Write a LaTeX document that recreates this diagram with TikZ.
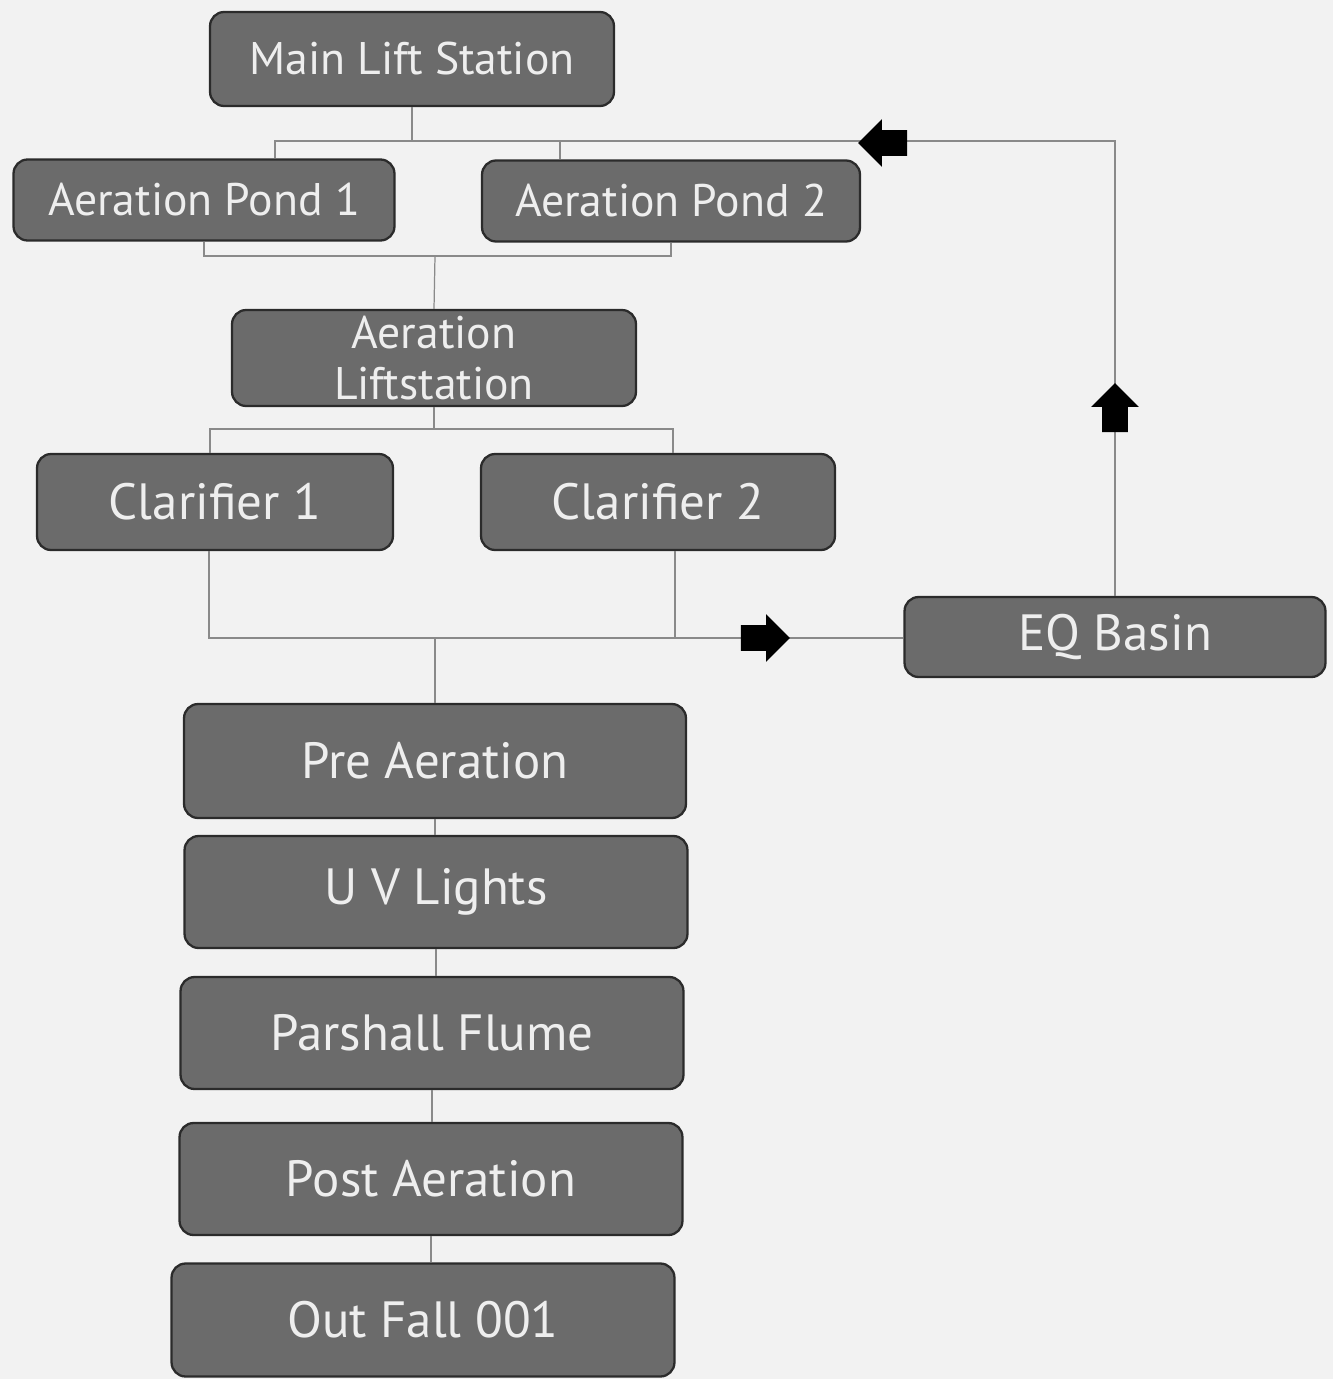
\documentclass[tikz,border=0pt]{standalone}
\usepackage{fontspec}
\setmainfont{PT Sans}
\usetikzlibrary{shapes.arrows}

\definecolor{paper}{HTML}{F2F2F2}
\definecolor{boxfill}{HTML}{6B6B6B}
\definecolor{boxline}{HTML}{2B2B2B}
\definecolor{boxtext}{HTML}{EEEEEE}
\definecolor{pipecol}{HTML}{8A8A8A}

\begin{document}
\begin{tikzpicture}[
    x=0.02cm, y=-0.02cm,
    unit/.style={
        draw=boxline,
        line width=1.3pt,
        fill=boxfill,
        rounded corners=8pt,
        text=boxtext,
        align=center,
        inner sep=0pt,
        font=\fontsize{26}{28.5}\selectfont
    },
    big/.style={unit, font=\fontsize{29}{32}\selectfont},
    pipe/.style={draw=pipecol, line width=0.7pt},
    flow/.style={
        single arrow,
        fill=black,
        draw=none,
        inner xsep=0pt,
        inner ysep=0.25cm,
        minimum height=0.98cm,
        minimum width=0.94cm,
        single arrow head extend=0.22cm
    },
    upflow/.style={flow, inner xsep=0.25cm, inner ysep=0pt, shape border rotate=90}
]

\useasboundingbox (0,0) rectangle (1333,1379);
\fill[paper] (0,0) rectangle (1333,1379);

% treatment units
\node[unit, minimum width=8.08cm, minimum height=1.88cm] (main) at (412,59) {Main Lift Station};
\node[unit, minimum width=7.62cm, minimum height=1.62cm] (pond1) at (204,200) {Aeration Pond 1};
\node[unit, minimum width=7.56cm, minimum height=1.62cm] (pond2) at (671,201) {Aeration Pond 2};
\node[unit, minimum width=8.08cm, minimum height=1.92cm] (lift) at (434,358) {Aeration\\Liftstation};
\node[big, minimum width=7.12cm, minimum height=1.92cm] (clar1) at (215,502) {Clarifier 1};
\node[big, minimum width=7.08cm, minimum height=1.92cm] (clar2) at (658,502) {Clarifier 2};
\node[big, minimum width=8.42cm, minimum height=1.60cm] (eq) at (1115,637) {EQ Basin};
\node[big, minimum width=10.04cm, minimum height=2.28cm] (pre) at (435,761) {Pre Aeration};
\node[big, minimum width=10.06cm, minimum height=2.24cm] (uv) at (436,892) {U V Lights};
\node[big, minimum width=10.06cm, minimum height=2.24cm] (flume) at (432,1033) {Parshall Flume};
\node[big, minimum width=10.06cm, minimum height=2.24cm] (post) at (431,1179) {Post Aeration};
\node[big, minimum width=10.06cm, minimum height=2.26cm] (outfall) at (423,1320) {Out Fall 001};

% junction points
\coordinate (tb1) at (275,141);
\coordinate (tb2) at (560,141);
\coordinate (pb) at (435,256);
\coordinate (cl1) at (210,429);
\coordinate (cl2) at (673,429);
\coordinate (cb1) at (209,638);
\coordinate (cb2) at (675,638);

% piping
\draw[pipe] (main.south) -- (main.south |- tb1);
\draw[pipe] (pond1.north -| tb1) -- (tb1) -- (tb1 -| eq.north) -- (eq.north);
\draw[pipe] (tb2) -- (tb2 |- pond2.north);
\draw[pipe] (pond1.south) |- (pb) -| (pond2.south);
\draw[pipe] (pb) -- (lift.north);
\draw[pipe] (lift.south) -- (lift.south |- cl1);
\draw[pipe] (cl1 |- clar1.north) -- (cl1) -- (cl2) -- (cl2 |- clar2.north);
\draw[pipe] (cb1 |- clar1.south) -- (cb1) -- (cb1 -| eq.west);
\draw[pipe] (cb2 |- clar2.south) -- (cb2);
\draw[pipe] (pre.north |- cb1) -- (pre.north);
\foreach \a/\b in {pre/uv, uv/flume, flume/post, post/outfall}
    \draw[pipe] (\a.south) -- (\a.south |- \b.north);

% flow arrows
\node[flow, shape border rotate=180] (backflow) at (889,143) {};
\node[flow] (toeq) at (759,638) {};
\node[upflow] (riser) at (1115,414) {};

\end{tikzpicture}
\end{document}
